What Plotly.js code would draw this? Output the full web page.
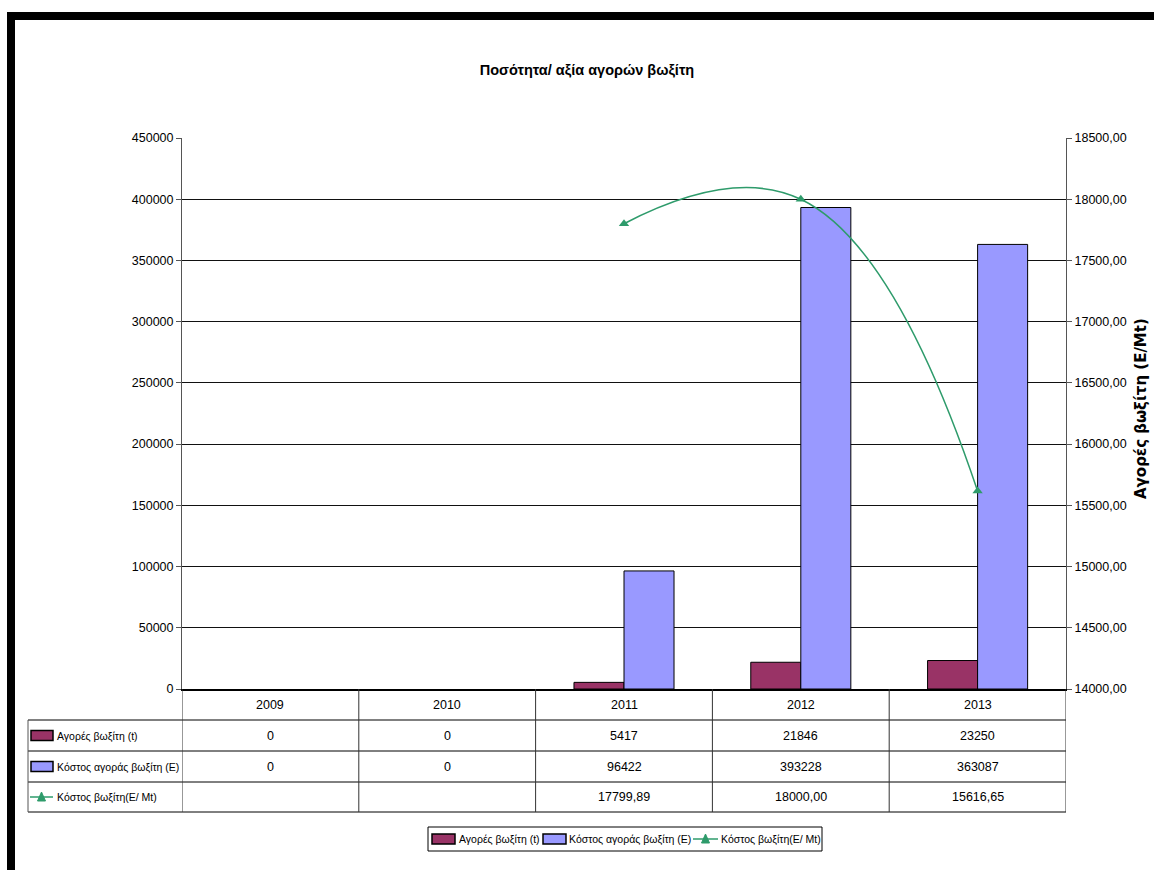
<!DOCTYPE html>
<html>
<head>
<meta charset="utf-8">
<script src="https://cdn.plot.ly/plotly-3.0.1.min.js"></script>
<style>html,body{margin:0;padding:0;background:#fff;}#chart{width:1154px;height:870px;}</style>
</head>
<body>
<div id="chart"></div>
<script>
const years = ['2009', '2010', '2011', '2012', '2013'];
const purchasesT = [0, 0, 5417, 21846, 23250];
const purchaseCostE = [0, 0, 96422, 393228, 363087];
const costPerMt = [null, null, 17799.89, 18000.00, 15616.65];
const seriesNames = ['Αγορές βωξίτη (t)', 'Κόστος αγοράς βωξίτη (E)', 'Κόστος βωξίτη(E/ Mt)'];
const chartTitle = 'Ποσότητα/ αξία αγορών βωξίτη';
const rightAxisTitle = 'Αγορές βωξίτη (E/Mt)';

const W = 1154, H = 870;
const L = 182, R = 1066, T = 138, B = 689;
const px2x = p => (p - L) / (R - L);
const px2y = p => (B - p) / (B - T);
const FONT = '"Liberation Sans", Arial, sans-serif';
const cMaroon = '#993366', cBlue = '#9999FF', cGreen = '#2E9B6B';

const outline = vals => vals.map(v => (v === 0 ? 0 : 1));
const traces = [
  {type: 'bar', name: seriesNames[0], x: years, y: purchasesT, marker: {color: cMaroon, line: {color: '#000', width: outline(purchasesT)}}, yaxis: 'y'},
  {type: 'bar', name: seriesNames[1], x: years, y: purchaseCostE, marker: {color: cBlue, line: {color: '#000', width: outline(purchaseCostE)}}, yaxis: 'y'},
  {type: 'scatter', mode: 'lines+markers', name: seriesNames[2], x: years, y: costPerMt, yaxis: 'y2',
   line: {color: cGreen, width: 1.5, shape: 'spline', smoothing: 1.3}, marker: {symbol: 'triangle-up', size: 9, color: cGreen}}
];

const shapes = [];
const annotations = [];
const lineStyle = {color: '#000', width: 1};
// table horizontal lines
[720, 751, 782, 812].forEach(p => shapes.push({type: 'line', xref: 'paper', yref: 'paper', x0: px2x(28), x1: 1, y0: px2y(p), y1: px2y(p), line: lineStyle}));
// table vertical lines at category boundaries
for (let k = 0; k <= years.length; k++) {
  shapes.push({type: 'line', xref: 'x', yref: 'paper', x0: k - 0.5, x1: k - 0.5, y0: px2y(689), y1: px2y(812), line: {color: '#333', width: 1}});
}
shapes.push({type: 'line', xref: 'paper', yref: 'paper', x0: px2x(28), x1: px2x(28), y0: px2y(720), y1: px2y(812), line: {color: '#555', width: 1}});

const cellFont = {family: FONT, size: 12.5, color: '#000'};
const labelFont = {family: FONT, size: 10.5, color: '#000'};
// header row (years)
years.forEach((yr, i) => annotations.push({xref: 'x', yref: 'paper', x: i, y: px2y(704.5), xanchor: 'center', yanchor: 'middle', text: yr, showarrow: false, font: cellFont}));
const fmtNum = v => v === null ? '' : String(v);
const fmtDec = v => v === null ? '' : v.toFixed(2).replace('.', ',');
const rows = [purchasesT.map(fmtNum), purchaseCostE.map(fmtNum), costPerMt.map(fmtDec)];
const rowCenters = [735.5, 766.5, 797];
rows.forEach((r, ri) => {
  r.forEach((txt, i) => { if (txt !== '') annotations.push({xref: 'x', yref: 'paper', x: i, y: px2y(rowCenters[ri]), xanchor: 'center', yanchor: 'middle', text: txt, showarrow: false, font: cellFont}); });
  annotations.push({xref: 'paper', yref: 'paper', x: px2x(55), y: px2y(rowCenters[ri]), xanchor: 'left', yanchor: 'middle', text: seriesNames[ri], showarrow: false, font: labelFont});
});

// helper for legend keys (bar rect / line with triangle)
function keyRect(x0, x1, yc, color) {
  shapes.push({type: 'rect', xref: 'paper', yref: 'paper', x0: px2x(x0), x1: px2x(x1), y0: px2y(yc - 5), y1: px2y(yc + 5), fillcolor: color, line: {color: '#000', width: 1.5}});
}
function keyLine(x0, x1, yc, color) {
  const xm = (x0 + x1) / 2;
  shapes.push({type: 'line', xref: 'paper', yref: 'paper', x0: px2x(x0), x1: px2x(x1), y0: px2y(yc), y1: px2y(yc), line: {color: color, width: 1.5}});
  shapes.push({type: 'path', xref: 'paper', yref: 'paper', fillcolor: color, line: {color: color, width: 1},
    path: `M ${px2x(xm - 4)} ${px2y(yc + 4)} L ${px2x(xm + 4)} ${px2y(yc + 4)} L ${px2x(xm)} ${px2y(yc - 5)} Z`});
}
// keys in the data table
keyRect(31, 53, rowCenters[0], cMaroon);
keyRect(31, 53, rowCenters[1], cBlue);
keyLine(30, 53, rowCenters[2], cGreen);

// bottom legend
const legY = 839;
shapes.push({type: 'rect', xref: 'paper', yref: 'paper', x0: px2x(428), x1: px2x(822), y0: px2y(827), y1: px2y(851), line: {color: '#000', width: 1}, fillcolor: 'rgba(0,0,0,0)'});
keyRect(432, 455, legY, cMaroon);
annotations.push({xref: 'paper', yref: 'paper', x: px2x(457), y: px2y(legY), xanchor: 'left', yanchor: 'middle', text: seriesNames[0], showarrow: false, font: labelFont});
keyRect(543, 566, legY, cBlue);
annotations.push({xref: 'paper', yref: 'paper', x: px2x(567), y: px2y(legY), xanchor: 'left', yanchor: 'middle', text: seriesNames[1], showarrow: false, font: labelFont});
keyLine(693, 718, legY, cGreen);
annotations.push({xref: 'paper', yref: 'paper', x: px2x(719), y: px2y(legY), xanchor: 'left', yanchor: 'middle', text: seriesNames[2], showarrow: false, font: labelFont});

// black frame (top and left)
shapes.push({type: 'rect', xref: 'paper', yref: 'paper', x0: px2x(7), x1: px2x(1160), y0: px2y(20), y1: px2y(12), fillcolor: '#000', line: {width: 0}});
shapes.push({type: 'rect', xref: 'paper', yref: 'paper', x0: px2x(7), x1: px2x(15), y0: px2y(875), y1: px2y(12), fillcolor: '#000', line: {width: 0}});

// right axis title
annotations.push({xref: 'paper', yref: 'paper', x: px2x(1141), y: px2y(409), xanchor: 'center', yanchor: 'middle', text: '<b>' + rightAxisTitle + '</b>', textangle: -90, showarrow: false,
  font: {family: '"DejaVu Sans", Verdana, sans-serif', size: 15, color: '#000'}});

const layout = {
  width: W, height: H,
  margin: {l: L, r: W - R, t: T, b: H - B, pad: 0},
  paper_bgcolor: '#fff', plot_bgcolor: '#fff',
  separators: ',.',
  title: {text: '<b>' + chartTitle + '</b>', x: 587 / W, xref: 'container', xanchor: 'center', y: 1 - 70 / H, yanchor: 'middle', font: {family: FONT, size: 14.5, color: '#000'}},
  barmode: 'group', bargap: 0.434, bargroupgap: 0,
  showlegend: false,
  xaxis: {type: 'category', range: [-0.5, 4.5], showticklabels: false, ticks: '', showgrid: false, showline: true, linecolor: '#000', linewidth: 2, zeroline: false, fixedrange: true},
  yaxis: {range: [0, 450000], dtick: 50000, tickformat: 'd', showgrid: true, gridcolor: '#111', gridwidth: 1, zeroline: false,
    showline: true, linecolor: '#555', linewidth: 1, ticks: 'outside', ticklen: 5, tickcolor: '#555',
    tickfont: {family: FONT, size: 12.5, color: '#000'}},
  yaxis2: {overlaying: 'y', side: 'right', range: [14000, 18500], dtick: 500, tickformat: '.2f', showgrid: false, zeroline: false,
    showline: true, linecolor: '#555', linewidth: 1, ticks: 'outside', ticklen: 5, tickcolor: '#555',
    tickfont: {family: FONT, size: 12.5, color: '#000'}},
  shapes: shapes,
  annotations: annotations
};

Plotly.newPlot('chart', traces, layout, {displayModeBar: false, staticPlot: true});
</script>
</body>
</html>
